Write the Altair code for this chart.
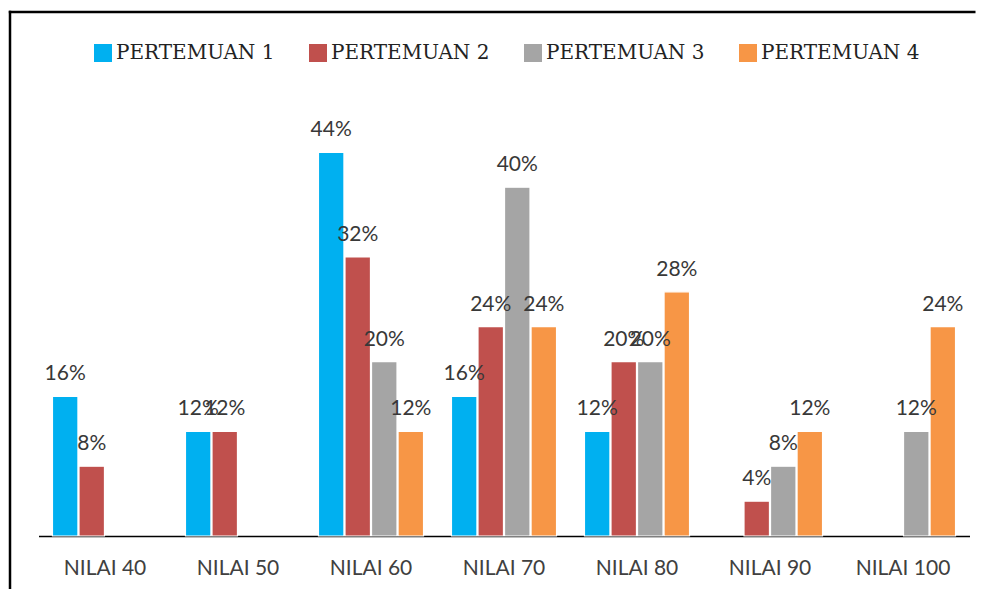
import altair as alt
import pandas as pd

categories = ["NILAI 40", "NILAI 50", "NILAI 60", "NILAI 70", "NILAI 80", "NILAI 90", "NILAI 100"]
series = ["PERTEMUAN 1", "PERTEMUAN 2", "PERTEMUAN 3", "PERTEMUAN 4"]
p1 = [16, 12, 44, 16, 12, 0, 0]
p2 = [8, 12, 32, 24, 20, 4, 0]
p3 = [0, 0, 20, 40, 20, 8, 12]
p4 = [0, 0, 12, 24, 28, 12, 24]
colors = ["#00B0F0", "#C0504D", "#A5A5A5", "#F79646"]

rows = []
for s, vals in zip(series, [p1, p2, p3, p4]):
    for c, v in zip(categories, vals):
        rows.append({"cat": c, "series": s, "value": v, "label": f"{v}%"})
df = pd.DataFrame(rows)

W, H = 931, 436

x = alt.X("cat:N", sort=categories, title=None,
          scale=alt.Scale(paddingInner=0.21, paddingOuter=0.105),
          axis=alt.Axis(domainColor="black", domainWidth=1.5, ticks=False,
                        labelAngle=0, labelFont="Lato", labelFontSize=21,
                        labelColor="#404040", labelPadding=21))
xo = alt.XOffset("series:N", sort=series, scale=alt.Scale(domain=series, paddingInner=0.04))
y = alt.Y("value:Q", scale=alt.Scale(domain=[0, 50]), axis=None)

base = alt.Chart(df).transform_filter("datum.value > 0")

bars = base.mark_bar(stroke="white", strokeWidth=1.2).encode(
    x=x, xOffset=xo, y=y,
    color=alt.Color("series:N", sort=series,
                    scale=alt.Scale(domain=series, range=colors),
                    legend=alt.Legend(title=None, orient="none", direction="horizontal",
                                      legendX=54.5, legendY=-57,
                                      symbolType="square", symbolSize=324,
                                      symbolStrokeWidth=0, symbolOpacity=1,
                                      labelFont="DejaVu Serif", labelFontSize=20,
                                      labelColor="#222222", labelOffset=3,
                                      columnPadding=33, labelLimit=400,
                                      padding=0))
)

labels = base.mark_text(font="Lato", fontSize=21, color="#383838",
                        baseline="alphabetic", dy=-16).encode(
    x=x, xOffset=xo, y=y, text="label:N"
)

one = pd.DataFrame({"a": [0]})
top_line = alt.Chart(one).mark_rule(color="black", strokeWidth=2.5).encode(
    x=alt.value(-29.7), x2=alt.value(937), y=alt.value(-88)
)
left_line = alt.Chart(one).mark_rule(color="black", strokeWidth=2.5).encode(
    x=alt.value(-28.5), y=alt.value(-89.2), y2=alt.value(560)
)

chart = alt.layer(bars, labels, top_line, left_line).properties(
    width=W, height=H,
    autosize=alt.AutoSizeParams(type="none"),
    padding={"left": 30.5, "top": 92, "right": 7.5, "bottom": 53},
).configure_view(stroke=None)

chart.save("out.html", embed_options={"renderer": "svg", "actions": False})
